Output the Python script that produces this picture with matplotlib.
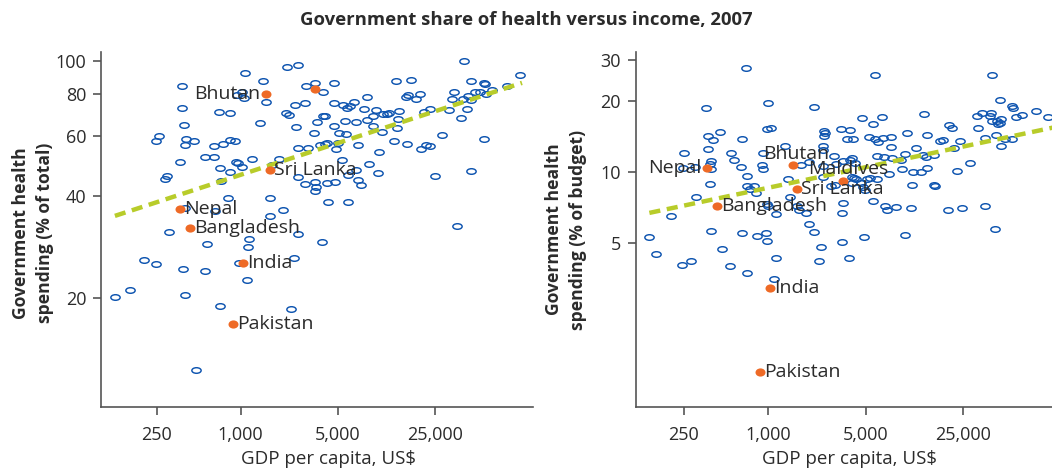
import numpy as np
import matplotlib
matplotlib.use("Agg")
import matplotlib.pyplot as plt
from matplotlib.path import Path
from matplotlib.transforms import Affine2D

plt.rcParams['font.family'] = ['Open Sans', 'DejaVu Sans']

# ---- data: left panel (government health spending, % of total) ----
total_gdp = [40000, 2160, 2570, 1070, 380, 1440, 2950, 3400, 4700, 101000, 45000, 16700, 13100,
             56300, 57000, 81500, 64000, 34000, 19400, 15400, 16000, 18100, 8070, 3925, 1020,
             1050, 940, 1510, 380, 700, 840, 2470, 2890, 4670, 5400, 5830, 6100, 6490, 2110,
             2240, 7670, 9430, 10500, 11300, 11700, 13700, 13550, 8920, 8070, 3900, 4010, 3530,
             4670, 5640, 6720, 23000, 20800, 31500, 32800, 38500, 42100, 45200, 39600, 42900,
             48600, 52000, 57900, 1370, 394, 2490, 5100, 5760, 3355, 8920, 10440, 13230, 12600,
             15600, 27860, 19600, 21400, 22800, 56000, 248, 260, 405, 398, 463, 643, 744, 836,
             916, 3700, 4010, 4180, 5020, 4880, 7000, 2600, 3050, 9920, 364, 553, 647, 1200,
             1900, 919, 960, 1025, 715, 832, 5370, 8300, 9680, 6700, 5920, 286, 296, 719, 2570,
             2890, 3410, 3460, 3430, 4140, 4780, 7000, 7270, 24800, 45500, 813, 1620, 398, 658,
             2000, 1620, 4240, 5920, 36000, 308, 2570, 578, 1143, 1130, 3870, 202, 248, 387,
             555, 966, 2430, 1118, 125, 161, 398, 711, 2290, 476, 1690]
total_share = [100, 96, 97, 92, 84, 87, 84, 86, 86, 91, 87, 87.5, 87,
               86, 85.5, 84, 82, 81, 80, 78, 79, 77, 78, 81, 81,
               77.6, 79, 75.7, 72.4, 70.8, 70.3, 74, 75, 75, 73.9, 72.7, 73.5, 75.5, 70.3,
               69.2, 71.9, 71.5, 69.8, 69.8, 70.2, 70.9, 67.5, 68.7, 66.9, 68.7, 68.7, 66.1,
               64, 66.6, 66, 72, 70.4, 71.5, 77, 68, 72, 76.6, 77, 78.8,
               81, 81, 79.6, 65.6, 64.6, 63.6, 61.4, 60.8, 61.1, 64, 61.6, 63.2, 58,
               56.9, 60.3, 55, 56.4, 55.9, 58.7, 58.1, 59.8, 58.9, 56.6, 58, 56, 57, 58.4,
               58.1, 56.6, 56.9, 57.2, 57.2, 55.1, 56.6, 55.3, 55.4, 53.7, 50.4, 52, 52.2, 51.4,
               51.3, 50.2, 49.8, 48.7, 48.4, 47.1, 50.9, 49.5, 46.6, 47.6, 46.1, 44.7, 45.6, 44.3, 45.3,
               43.3, 44, 42.5, 41.3, 43.6, 43.8, 44.5, 43, 45.6, 47.2, 39.3, 39.5, 36.8, 36.1,
               36.4, 34.8, 38.3, 38.4, 32.6, 31.2, 30.8, 28.9, 29.9, 28.2, 29.3, 25.9, 25.2, 24.3,
               24, 25.4, 26.2, 22.6, 20.2, 21.1, 20.4, 18.9, 18.5, 12.3, 49.3]

# ---- data: right panel (government health spending, % of budget) ----
budget_gdp = [696, 5825, 39800, 360, 1005, 2130, 45400, 55300, 56800, 82100, 101000, 59600, 65900,
              31400, 34100, 39560, 38700, 39800, 43200, 45600, 46800, 44500, 32000, 35800, 42500,
              49800, 55600, 46200, 13100, 6530, 4680, 5660, 3310, 3880, 9810, 13700, 19800, 20900,
              16900, 18000, 23600, 21600, 5250, 5825, 6150, 6640, 7560, 7560, 3700, 4030, 2515,
              2515, 2560, 978, 1050, 652, 458, 370, 402, 252, 370, 547, 577, 645, 395, 385, 395,
              247, 300, 385, 304, 202, 142, 158, 244, 280, 394, 471, 540, 650, 704, 714, 710, 744,
              798, 825, 911, 926, 926, 983, 1005, 830, 970, 978, 1134, 1113, 1142, 1397, 1430, 1330,
              1712, 1954, 1603, 1680, 1880, 1954, 2130, 2408, 2304, 2460, 2460, 2460, 2480, 2964,
              3090, 2830, 3040, 3458, 3860, 3970, 4190, 3970, 4250, 4100, 3970, 4650, 4780, 5150,
              5350, 5990, 4950, 3420, 3380, 3380, 3820, 4900, 5660, 6900, 7090, 8230, 9550, 10500,
              10750, 9130, 11380, 9550, 8970, 7660, 7340, 6750, 5990, 12550, 13670, 12970, 13560,
              15470, 10950, 15470, 15600, 19480, 24520, 36000, 42000, 22350, 27840]
budget_share = [27.7, 25.8, 25.8, 18.8, 19.7, 18.9, 20.3, 19.1, 18.7, 18.2, 17.1, 17.2, 17.5,
                17.3, 17.9, 17.8, 17.3, 16.5, 16.5, 16.2, 16.8, 16.0, 15.4, 13.9, 14.4,
                13.8, 13.8, 12.9, 17.6, 17.2, 17.0, 16.0, 15.3, 15.1, 14.6, 14.4, 15.8, 15.4,
                13.5, 13.7, 13.5, 12.6, 14.1, 13.8, 13.4, 14.0, 14.1, 12.8, 13.8, 13.8, 14.2,
                15.0, 14.7, 15.2, 15.4, 13.8, 14.8, 14.2, 13.7, 12.1, 12.5, 12.1, 11.2, 10.5, 11.1, 10.8, 10.3,
                10.4, 10.5, 8.9, 7.8, 6.5, 5.3, 4.5, 4.02, 4.2, 5.6, 4.7, 4.0, 5.5, 3.73, 9.6, 8.7, 8.44,
                8.7, 8.17, 10.7, 10.3, 12.0, 7.28, 7.17, 5.33, 5.5, 5.1, 4.3, 3.51, 6.6, 9.3, 7.8, 12.9,
                10.7, 11.0, 7.17, 6.9, 6.7, 6.0, 5.53, 4.8, 4.2, 9.5, 10.6, 12.9, 12.4, 11.7,
                10.8, 8.7, 8.8, 11.1, 11.3, 11.5, 10.9, 9.5, 9.3, 9.4, 9.0, 9.0, 8.6, 9.3,
                9.4, 9.3, 8.4, 7.4, 6.7, 5.03, 4.3, 5.3, 7.5, 7.2, 6.9, 7.1, 5.4, 7.0,
                8.8, 10.3, 12.6, 11.9, 11.2, 11.5, 9.8, 11.6, 11.7, 10.0, 10.4, 11.8, 11.6,
                11.8, 10.0, 8.8, 8.7, 6.9, 7.0, 7.2, 5.7, 10.1, 10.96]

# highlighted South Asian countries
sa_names = ['Nepal', 'Bangladesh', 'India', 'Pakistan', 'Bhutan', 'Sri Lanka', 'Maldives']
sa_gdp = [365, 433, 1039, 875, 1520, 1620, 3440]
sa_total = [36.5, 32.1, 25.3, 16.8, 80, 47.5, 82.6]
sa_budget = [10.4, 7.2, 3.2, 1.41, 10.7, 8.5, 9.2]

# fitted trend lines (end points)
trend_total_gdp = [125, 105000]
trend_total_val = [34.9, 86.0]
trend_budget_gdp = [142, 112000]
trend_budget_val = [6.7, 15.5]

xticks = [250, 1000, 5000, 25000]
xticklabels = ['250', '1,000', '5,000', '25,000']

blue = '#0f55b0'
orange = '#ee6a26'
green = '#b8cc2a'
txt = '#2b2b2b'
spine = '#555555'

ring = Path.unit_circle().transformed(Affine2D().scale(1.0, 0.6))
dot = Path.unit_circle().transformed(Affine2D().scale(1.0, 0.82))

fig = plt.figure(figsize=(10.52, 4.73), dpi=100)
ax1 = fig.add_axes([0.0964, 0.1395, 0.4103, 0.7505])
ax2 = fig.add_axes([0.6046, 0.1395, 0.3954, 0.7505])


def style(ax, ylim, xlim, yticks, xlab_x):
    ax.set_xscale('log')
    ax.set_yscale('log')
    ax.set_xlim(*xlim)
    ax.set_ylim(*ylim)
    ax.set_xticks(xticks)
    ax.set_xticklabels(xticklabels)
    ax.set_yticks(yticks)
    ax.set_yticklabels([str(t) for t in yticks])
    ax.minorticks_off()
    for s in ['top', 'right']:
        ax.spines[s].set_visible(False)
    for s in ['left', 'bottom']:
        ax.spines[s].set_color(spine)
        ax.spines[s].set_linewidth(1.2)
    ax.tick_params(direction='out', length=6, width=1.2, color=spine,
                   labelsize=13, labelcolor=txt)
    ax.tick_params(axis='x', pad=8)
    ax.tick_params(axis='y', pad=5)
    ax.set_xlabel('GDP per capita, US$', fontsize=13.5, color=txt)
    ax.xaxis.set_label_coords(xlab_x, -0.12)
    ax.xaxis.label.set_va('top')


for ax, gdp, share, sa_val, tg, tv in [
        (ax1, total_gdp, total_share, sa_total, trend_total_gdp, trend_total_val),
        (ax2, budget_gdp, budget_share, sa_budget, trend_budget_gdp, trend_budget_val)]:
    ax.plot(gdp, share, linestyle='none', marker=ring, markersize=6.7,
            markerfacecolor='none', markeredgecolor=blue, markeredgewidth=1.05, zorder=2)
    ax.plot(tg, tv, color=green, linewidth=3.2, dashes=(2.5, 1.5), zorder=3)

# orange highlights (Maldives shown but unlabelled on the left)
ax1.plot(sa_gdp, sa_total, linestyle='none', marker=dot, markersize=7.2,
         markerfacecolor=orange, markeredgecolor='none', zorder=4)
ax2.plot(sa_gdp, sa_budget, linestyle='none', marker=dot, markersize=7.2,
         markerfacecolor=orange, markeredgecolor='none', zorder=4)

lab = dict(fontsize=14, color=txt, zorder=5)
for name, g, v in zip(sa_names, sa_gdp, sa_total):
    if name == 'Maldives':
        continue
    if name == 'Bhutan':
        ax1.annotate(name, (g, v), xytext=(-4, 0), textcoords='offset points',
                     ha='right', va='center', **lab)
    else:
        ax1.annotate(name, (g, v), xytext=(3, 0), textcoords='offset points',
                     ha='left', va='center', **lab)

for name, g, v in zip(sa_names, sa_gdp, sa_budget):
    if name == 'Nepal':
        ax2.annotate(name, (g, v), xytext=(-4, 0), textcoords='offset points',
                     ha='right', va='center', **lab)
    elif name == 'Bhutan':
        ax2.annotate(name, (g, v), xytext=(2, 8), textcoords='offset points',
                     ha='center', va='center', **lab)
    elif name == 'Maldives':
        ax2.annotate(name, (g, v), xytext=(4, 8), textcoords='offset points',
                     ha='center', va='center', **lab)
    else:
        ax2.annotate(name, (g, v), xytext=(3, 0), textcoords='offset points',
                     ha='left', va='center', **lab)

style(ax1, (9.55, 106), (100, 126000), [20, 40, 60, 80, 100], 0.527)
style(ax2, (1.0, 32.4), (114, 107700), [5, 10, 20, 30], 0.514)

ax1.set_ylabel('Government health\nspending (% of total)', fontsize=12.6, fontweight='bold',
               color=txt, linespacing=1.45)
ax1.yaxis.set_label_coords(-0.158, 0.49)
ax1.yaxis.label.set_va('center')
ax2.set_ylabel('Government health\nspending (% of budget)', fontsize=12.6, fontweight='bold',
               color=txt, linespacing=1.45)
ax2.yaxis.set_label_coords(-0.168, 0.5)
ax2.yaxis.label.set_va('center')

fig.suptitle('Government share of health versus income, 2007', fontsize=13.3,
             fontweight='bold', color=txt, y=0.977)

fig.savefig('out.png', dpi=100)
